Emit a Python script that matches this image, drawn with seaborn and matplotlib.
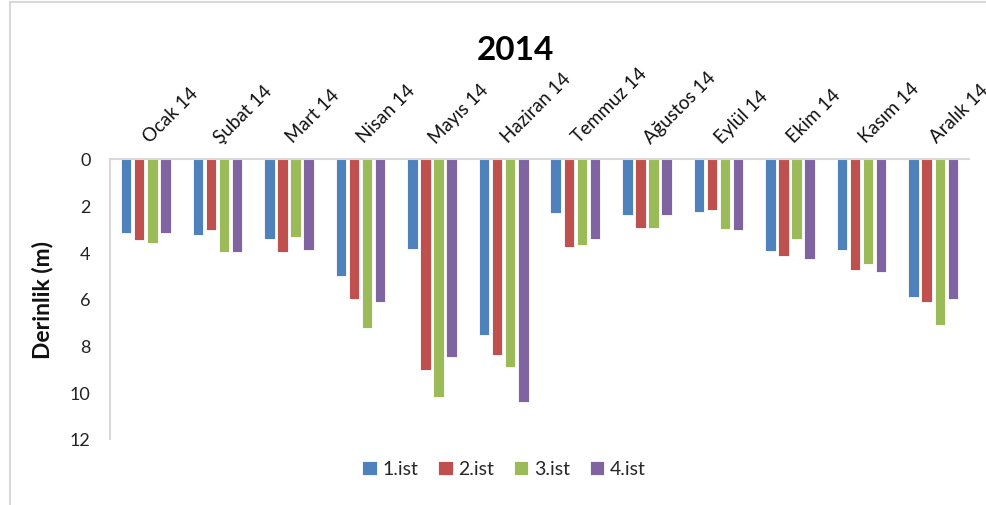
import matplotlib
matplotlib.use("Agg")
import matplotlib.pyplot as plt
from matplotlib.patches import Rectangle
import seaborn as sns
import pandas as pd

months = ["Ocak 14", "Şubat 14", "Mart 14", "Nisan 14", "Mayıs 14", "Haziran 14",
          "Temmuz 14", "Ağustos 14", "Eylül 14", "Ekim 14", "Kasım 14", "Aralık 14"]
stations = ["1.ist", "2.ist", "3.ist", "4.ist"]

ist1 = [3.18, 3.24, 3.41, 5.01, 3.87, 7.54, 2.30, 2.39, 2.27, 3.96, 3.90, 5.91]
ist2 = [3.49, 3.03, 4.00, 6.01, 9.04, 8.41, 3.76, 2.94, 2.17, 4.17, 4.76, 6.13]
ist3 = [3.59, 3.99, 3.36, 7.24, 10.21, 8.93, 3.70, 2.97, 2.99, 3.43, 4.50, 7.11]
ist4 = [3.18, 3.97, 3.90, 6.13, 8.50, 10.43, 3.44, 2.39, 3.04, 4.30, 4.86, 6.01]

colors = ["#4F81BD", "#C0504D", "#9BBB59", "#8064A2"]

rows = []
for name, vals in zip(stations, [ist1, ist2, ist3, ist4]):
    for m, v in zip(months, vals):
        rows.append({"Ay": m, "İstasyon": name, "Derinlik": v})
df = pd.DataFrame(rows)

sns.set_theme(style="white")
plt.rcParams["font.family"] = ["Lato", "DejaVu Sans"]

fig = plt.figure(figsize=(9.87, 5.06), dpi=100)
ax = fig.add_axes([110 / 987, 1 - 440 / 506, 859 / 987, 280 / 506])

sns.barplot(data=df, x="Ay", y="Derinlik", hue="İstasyon", order=months,
            hue_order=stations, palette=colors, width=0.73, gap=0.2,
            saturation=1, edgecolor="white", linewidth=0.6, ax=ax)

ax.set_ylim(12, 0)
ax.set_xlim(-0.5, len(months) - 0.5)
ax.set_yticks(range(0, 13, 2))
ax.tick_params(axis="y", length=0, pad=14, labelsize=13, colors="#222222")

ax.xaxis.tick_top()
ax.tick_params(axis="x", length=0, pad=14, colors="#111111")
ax.set_xticks(range(len(months)))
ax.set_xticklabels(months, rotation=45, ha="left", va="center",
                   rotation_mode="anchor", fontsize=13.5)
for lbl in ax.get_xticklabels():
    lbl.set_clip_on(False)
ax.set_xlabel("")
ax.set_ylabel("Derinlik (m)", fontsize=16.5, fontweight="bold", labelpad=12,
              color="#111111")

for side in ["right", "bottom"]:
    ax.spines[side].set_visible(False)
for side in ["left", "top"]:
    ax.spines[side].set_color("#D9D9D9")
    ax.spines[side].set_linewidth(1.5)

fig.text(515 / 987, 1 - 50 / 506, "2014", ha="center", va="center",
         fontsize=24, fontweight="bold", color="#000000")

handles, labels = ax.get_legend_handles_labels()
ax.legend_.remove()
fig.legend(handles, labels, loc="center", bbox_to_anchor=(504 / 987, 1 - 470 / 506),
           ncol=4, frameon=False, fontsize=14, handlelength=0.75,
           handleheight=0.75, handletextpad=0.3, columnspacing=1.0)

fig.patches.append(Rectangle((10 / 987, -0.1), 1.2, 1 - 3 / 506 + 0.1,
                             transform=fig.transFigure, fill=False,
                             edgecolor="#D9D9D9", linewidth=1.5))

fig.savefig("out.png", dpi=100)
